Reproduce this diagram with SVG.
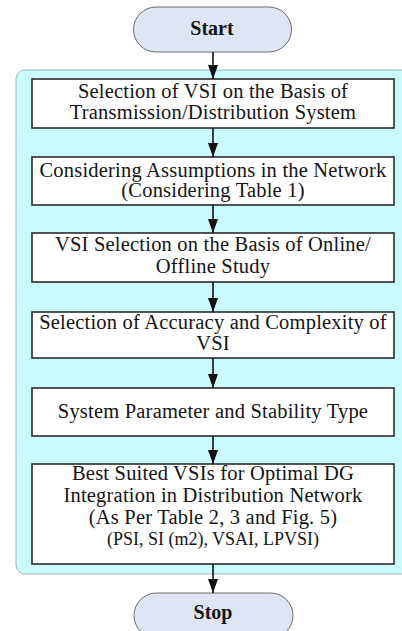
<svg xmlns="http://www.w3.org/2000/svg" width="402" height="631" viewBox="0 0 402 631">
  <defs>
    <marker id="arrow" markerUnits="userSpaceOnUse" markerWidth="14" markerHeight="10" viewBox="0 0 14 10" refX="14" refY="5" orient="auto">
      <path d="M0,0 L14,5 L0,10 Z" fill="#111"/>
    </marker>
  </defs>
  <style>
    .terminal { fill: #dfe5f3; stroke: #6b6b6b; stroke-width: 1; }
    .panel { fill: #cbfafc; stroke: #a3b4b6; stroke-width: 1; }
    .step { fill: #ffffff; stroke: #2b2b2b; stroke-width: 1.6; }
    .label { font-family: "Liberation Serif", "Times New Roman", serif; font-size: 20.5px; letter-spacing: 0.2px; fill: #141414; text-anchor: middle; }
    .small { font-size: 18px; letter-spacing: 0; }
    .bold { font-weight: bold; font-size: 20px; letter-spacing: 0; }
    .link { stroke: #111; stroke-width: 1.6; fill: none; marker-end: url(#arrow); }
  </style>

  <rect width="402" height="631" fill="#ffffff"/>

  <!-- background panel grouping the process steps -->
  <rect class="panel" x="16" y="70" width="394" height="504" rx="9"/>

  <g id="start">
    <rect class="terminal" x="133.5" y="7" width="158" height="45" rx="22.5"/>
    <text class="label bold" x="212" y="34.5">Start</text>
  </g>

  <g id="step1">
    <rect class="step" x="32" y="79" width="362" height="49"/>
    <text class="label" x="213" y="97.5">Selection of VSI on the Basis of</text>
    <text class="label" x="213" y="118.5">Transmission/Distribution System</text>
  </g>

  <g id="step2">
    <rect class="step" x="32" y="157" width="362" height="48"/>
    <text class="label" x="213" y="176.5">Considering Assumptions in the Network</text>
    <text class="label" x="213" y="197">(Considering Table 1)</text>
  </g>

  <g id="step3">
    <rect class="step" x="32" y="233" width="362" height="49"/>
    <text class="label" x="213" y="251">VSI Selection on the Basis of Online/</text>
    <text class="label" x="213" y="272.5">Offline Study</text>
  </g>

  <g id="step4">
    <rect class="step" x="32" y="312" width="362" height="46"/>
    <text class="label" x="213" y="329">Selection of Accuracy and Complexity of</text>
    <text class="label" x="213" y="350">VSI</text>
  </g>

  <g id="step5">
    <rect class="step" x="32" y="388" width="362" height="48"/>
    <text class="label" x="213" y="418">System Parameter and Stability Type</text>
  </g>

  <g id="step6">
    <rect class="step" x="32" y="464" width="362" height="100"/>
    <text class="label" x="213" y="479.5">Best Suited VSIs for Optimal DG</text>
    <text class="label" x="213" y="502">Integration in Distribution Network</text>
    <text class="label" x="213" y="524">(As Per Table 2, 3 and Fig. 5)</text>
    <text class="label small" x="213" y="545">(PSI, SI (m2), VSAI, LPVSI)</text>
  </g>

  <g id="stop">
    <rect class="terminal" x="134" y="593" width="159" height="45" rx="22.5"/>
    <text class="label bold" x="213" y="619">Stop</text>
  </g>

  <g id="connectors">
    <line class="link" x1="213" y1="52" x2="213" y2="79"/>
    <line class="link" x1="213" y1="128" x2="213" y2="157"/>
    <line class="link" x1="213" y1="205" x2="213" y2="233"/>
    <line class="link" x1="213" y1="282" x2="213" y2="312"/>
    <line class="link" x1="213" y1="358" x2="213" y2="388"/>
    <line class="link" x1="213" y1="436" x2="213" y2="464"/>
    <line class="link" x1="213" y1="564" x2="213" y2="593"/>
  </g>
</svg>
